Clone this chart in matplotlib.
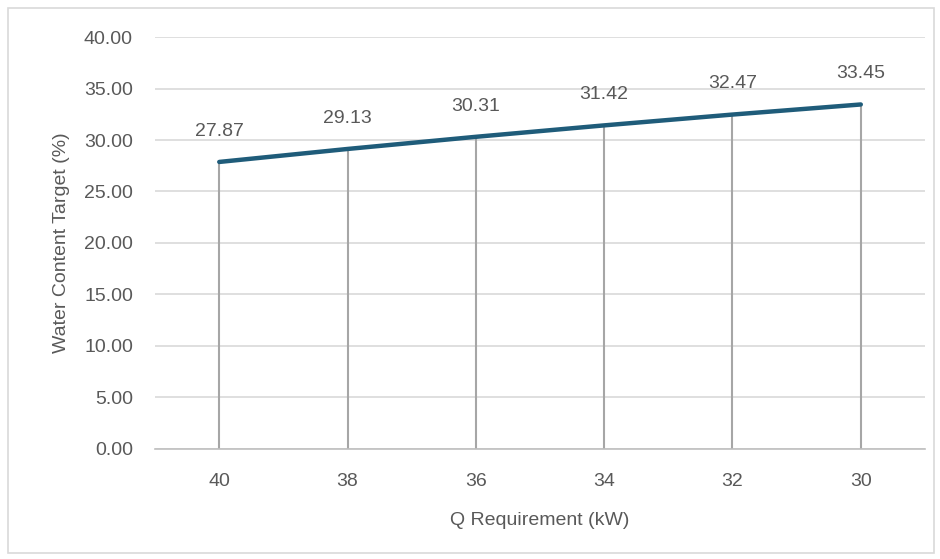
import numpy as np
import matplotlib.pyplot as plt
from matplotlib.patches import Rectangle

# data
q_labels = ["40", "38", "36", "34", "32", "30"]
water_target = [27.87, 29.13, 30.31, 31.42, 32.47, 33.45]
y_ticks = [0, 5, 10, 15, 20, 25, 30, 35, 40]

plt.rcParams['font.family'] = ['Liberation Sans', 'DejaVu Sans']
text_col = '#595959'

fig = plt.figure(figsize=(9.4, 5.59), dpi=100)
# light border around the whole chart
fig.patches.append(Rectangle((8/940, 6/559), 926/940, 545/559, transform=fig.transFigure,
                             fill=False, edgecolor='#D9D9D9', linewidth=1.2))

ax = fig.add_axes([0.165, 0.1968, 0.819, 0.737])
x = np.arange(len(q_labels))

# drop lines from each point to the axis
ax.vlines(x, 0, water_target, color='#A6A6A6', linewidth=1.5, zorder=2)
ax.plot(x, water_target, color='#1F5C7A', linewidth=3.2, solid_capstyle='round', zorder=3)

for xi, v in zip(x, water_target):
    ax.annotate(f"{v:.2f}", (xi, v), xytext=(0, 16), textcoords='offset points',
                ha='center', va='bottom', fontsize=14, color=text_col)

ax.set_xlim(-0.5, len(q_labels) - 0.5)
ax.set_ylim(0, 40)
ax.set_yticks(y_ticks)
ax.set_yticklabels([f"{t:.2f}" for t in y_ticks])
ax.set_xticks(x)
ax.set_xticklabels(q_labels)
ax.grid(axis='y', color='#D9D9D9', linewidth=1.2)
ax.set_axisbelow(True)

for s in ['top', 'right', 'left']:
    ax.spines[s].set_visible(False)
ax.spines['bottom'].set_color('#BFBFBF')
ax.spines['bottom'].set_linewidth(1.2)
ax.tick_params(length=0, labelsize=14, colors=text_col)
ax.tick_params(axis='x', pad=17)
ax.tick_params(axis='y', pad=16)

ax.set_xlabel("Q Requirement (kW)", fontsize=14, color=text_col, labelpad=16)
ax.set_ylabel("Water Content Target (%)", fontsize=14, color=text_col, labelpad=10)

fig.savefig("out.png", dpi=100)
